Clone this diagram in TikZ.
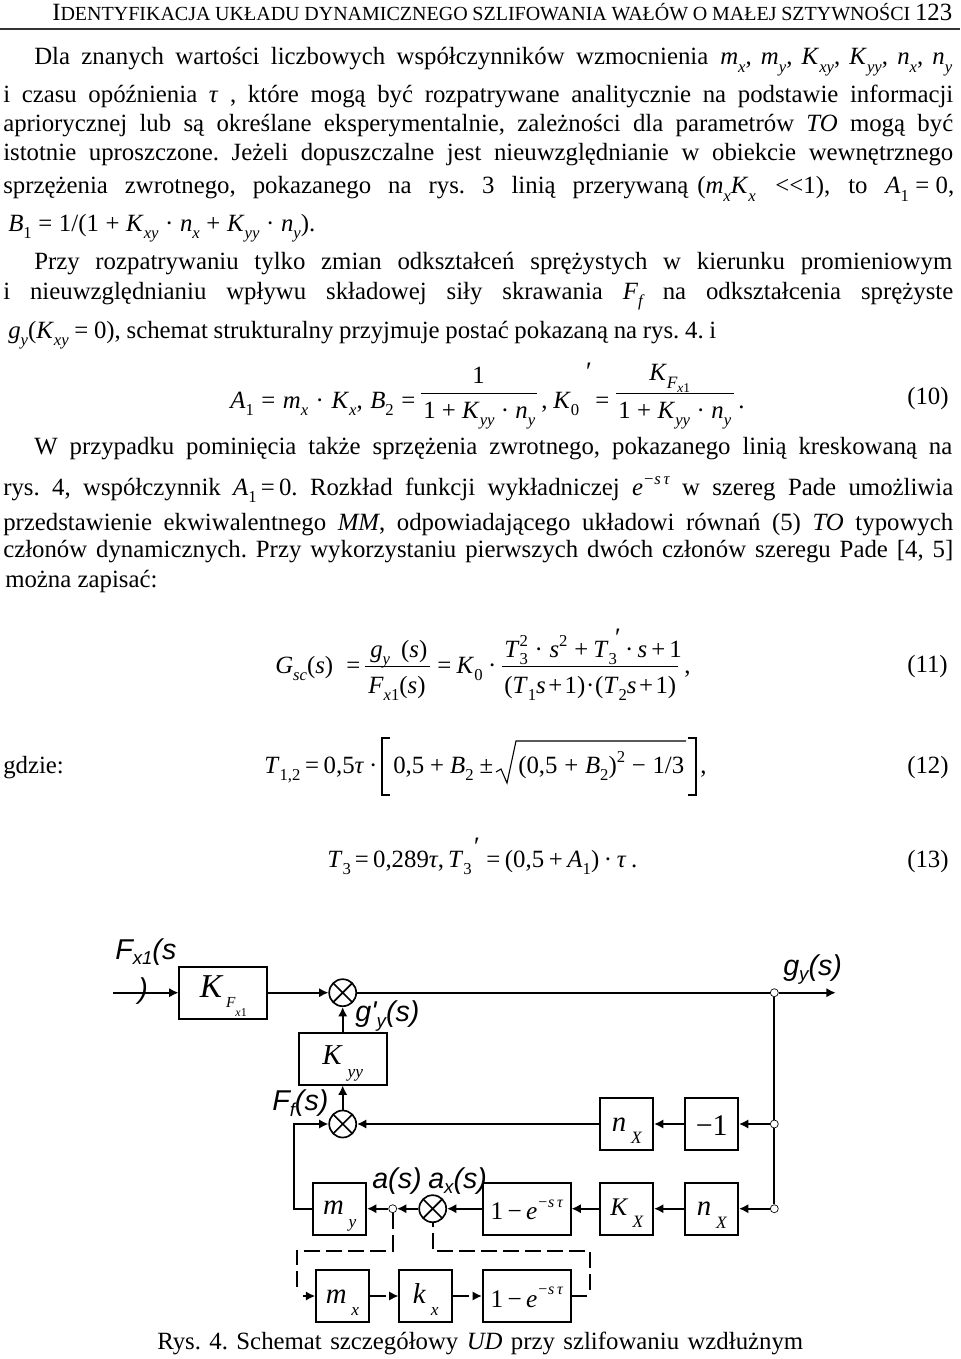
\documentclass[tikz,border=0pt]{standalone}
\usepackage{fontspec}
\setmainfont{Liberation Serif}
\newfontfamily\lab{Liberation Sans}
\usetikzlibrary{arrows.meta}
\newlength\pxu \setlength\pxu{0.75pt}
\newcounter{tl}
\newcommand\lo[1]{\raisebox{-.3em}{\fontsize{12.5}{13}\selectfont\itshape #1}}
\newcommand\lon[1]{\raisebox{-.3em}{\fontsize{12.5}{13}\selectfont #1}}
\newcommand\hi[1]{\raisebox{.42em}{\fontsize{12.5}{13}\selectfont\itshape #1}}
\newcommand\hin[1]{\raisebox{.42em}{\fontsize{12.5}{13}\selectfont #1}}
\newcommand\I[1]{\textit{#1}}
\newcommand\tx[3]{\stepcounter{tl}\node[anchor=base west,inner sep=0pt] (t\arabic{tl}) at (#1,#2) {\frenchspacing #3};}
\newcommand\jl[4]{\tx{#1}{#2}{\makebox[#3\pxu][s]{#4}}}
\newcommand\bx[2]{\raisebox{-#1\pxu}[0pt][0pt]{#2}}
\newcommand\blo[1]{\raisebox{-.45em}{\fontsize{13}{14}\selectfont\itshape #1}}
\newcommand\bhi[1]{\raisebox{.5em}{\fontsize{12}{14}\selectfont\itshape #1}}
\newcommand\fsz[1]{\fontsize{#1}{#1}\selectfont}
\newcommand\lbl[1]{{\lab\itshape\fontsize{21.5}{24}\selectfont #1}}
\newcommand\lsb[1]{\raisebox{-.2em}{\fontsize{14}{15}\selectfont #1}}
\newcommand\primemark{\fsz{20}\I{′}}
\tikzset{
  x=0.75pt,y=-0.75pt,
  every node/.style={font=\fontsize{18.6}{21}\selectfont},
  wire/.style={line width=1.25pt},
  flow/.style={wire,-{Latex[length=7pt,width=7pt]}},
  dashwire/.style={wire,dash pattern=on 12pt off 4.5pt},
  smallbox/.style={draw,line width=1.25pt,minimum width=39.75pt,minimum height=39pt,inner sep=0pt},
  widebox/.style={draw,line width=1.25pt,minimum width=66pt,minimum height=39pt,inner sep=0pt},
  sumnode/.style={draw,circle,line width=1.25pt,minimum size=20.25pt,inner sep=0pt,
    path picture={\draw[line width=1.25pt] (path picture bounding box.north west)--(path picture bounding box.south east)
      (path picture bounding box.north east)--(path picture bounding box.south west);}},
  junction/.style={draw,circle,fill=white,line width=.5pt,minimum size=6pt,inner sep=0pt},
  lbltext/.style={anchor=base west,inner sep=0pt}
}
\begin{document}
\begin{tikzpicture}
\useasboundingbox (0,0) rectangle (960,1359);
% header
\jl{52}{21}{900}{\fsz{18.6}I\fsz{15}DENTYFIKACJA UKŁADU DYNAMICZNEGO SZLIFOWANIA WAŁÓW O MAŁEJ SZTYWNOŚCI \fsz{18.6}123}
\coordinate (ruleL) at (0,29); \coordinate (ruleR) at (960,29);
\draw[line width=.9pt,black!80] (ruleL)--(ruleR);
% text
\jl{34}{65}{674}{Dla znanych wartości liczbowych współczynników wzmocnienia}
\jl{720}{65}{232}{\I{m}\lo{x}, \I{m}\lo{y}, \I{K}\lo{xy}, \I{K}\lo{yy}, \I{n}\lo{x}, \I{n}\lo{y}}
\jl{3}{103}{950}{i czasu opóźnienia \I{τ} , które mogą być rozpatrywane analitycznie na podstawie informacji}
\jl{3}{132}{950}{apriorycznej lub są określane eksperymentalnie, zależności dla parametrów \I{TO} mogą być}
\jl{3}{161}{950}{istotnie uproszczone. Jeżeli dopuszczalne jest nieuwzględnianie w obiekcie wewnętrznego}
\jl{3}{194}{685}{sprzężenia zwrotnego, pokazanego na rys. 3 linią przerywaną}
\jl{697}{194}{133}{(\I{m}\lo{x}\I{K}\lo{x} {<}{<}1),}
\tx{848}{194}{to}
\jl{885}{194}{69}{\I{A}\lon{1} = 0,}
\jl{8}{231}{307}{\I{B}\lon{1} = 1/(1 + \I{K}\lo{xy} · \I{n}\lo{x} + \I{K}\lo{yy} · \I{n}\lo{y}).}
\jl{34}{269}{918}{Przy rozpatrywaniu tylko zmian odkształceń sprężystych w kierunku promieniowym}
\jl{3}{299}{950}{i nieuwzględnianiu wpływu składowej siły skrawania \I{F}\lo{f} na odkształcenia sprężyste}
\jl{8}{338}{708}{\I{g}\lo{y}(\I{K}\lo{xy} = 0), schemat strukturalny przyjmuje postać pokazaną na rys. 4. i}
% eq 10
\jl{230}{408}{185}{\I{A}\lon{1} = \I{m}\lo{x} · \I{K}\lo{x}, \I{B}\lon{2} =}
\coordinate (f1a) at (421,393); \coordinate (f1b) at (537,393);
\draw[line width=.7pt] (f1a)--(f1b);
\tx{472}{383}{1}
\jl{423}{418}{112}{1 + \I{K}\lo{yy} · \I{n}\lo{y}}
\tx{541}{408}{,}
\tx{553}{408}{\I{K}\lon{0}}
\tx{584}{380}{\primemark}
\tx{595}{408}{=}
\coordinate (f2a) at (616,393); \coordinate (f2b) at (734,393);
\draw[line width=.7pt] (f2a)--(f2b);
\tx{649}{380}{\I{K}\raisebox{-.35em}{\fsz{13}\itshape F}\raisebox{-.5em}{\fsz{10}\itshape x\upshape 1}}
\jl{618}{418}{113}{1 + \I{K}\lo{yy} · \I{n}\lo{y}}
\tx{738}{408}{.}
\tx{907}{404}{(10)}
\jl{34}{454}{918}{W przypadku pominięcia także sprzężenia zwrotnego, pokazanego linią kreskowaną na}
\jl{3}{495}{950}{rys. 4, współczynnik \I{A}\lon{1}\,=\,0. Rozkład funkcji wykładniczej \I{e}\hi{−s\,τ} w szereg Pade umożliwia}
\jl{3}{530}{950}{przedstawienie ekwiwalentnego \I{MM}, odpowiadającego układowi równań (5) \I{TO} typowych}
\jl{3}{557}{950}{członów dynamicznych. Przy wykorzystaniu pierwszych dwóch członów szeregu Pade [4, 5]}
\tx{5}{587}{można zapisać:}
% eq 11
\jl{275}{673}{85}{\I{G}\lo{sc}(\I{s}) =}
\coordinate (f3a) at (365,666); \coordinate (f3b) at (430,666);
\draw[line width=.7pt] (f3a)--(f3b);
\jl{370}{657}{57}{\I{g}\lo{y} (\I{s})}
\jl{368}{693}{61}{\I{F}\lo{x}\lon{1}(\I{s})}
\jl{437}{673}{59}{= \I{K}\lon{0} ·}
\coordinate (f4a) at (502,666); \coordinate (f4b) at (678,666);
\draw[line width=.7pt] (f4a)--(f4b);
\jl{504}{657}{84}{\I{T}\rlap{\lon{3}}\hin{2} · \I{s}\hin{2} +}
\jl{593}{657}{84}{\I{T}\lon{3} \ · \I{s} + 1}
\tx{613}{646}{\primemark}
\tx{504}{693}{(\I{T}\lon{1}\I{s}\hspace{.1em}+\hspace{.1em}1)\hspace{.03em}·\hspace{.03em}(\I{T}\lon{2}\I{s}\hspace{.1em}+\hspace{.1em}1)}
\tx{684}{673}{,}
\tx{907}{672}{(11)}
% eq 12
\tx{3}{773}{gdzie:}
\jl{264}{773}{113}{\I{T}\lon{1,2} = 0,5\I{τ} ·}
\coordinate (bl1) at (390,738); \coordinate (bl2) at (382,738); \coordinate (bl3) at (382,795); \coordinate (bl4) at (390,795);
\draw[line width=.8pt] (bl1)--(bl2)--(bl3)--(bl4);
\jl{393}{773}{100}{0,5 + \I{B}\lon{2} ±}
\coordinate (sq1) at (496,772); \coordinate (sq2) at (501,769); \coordinate (sq3) at (507,783); \coordinate (sq4) at (516,741); \coordinate (sq5) at (686,741);
\draw[line width=.8pt] (sq1)--(sq2)--(sq3)--(sq4)--(sq5);
\jl{518}{773}{166}{(0,5 + \I{B}\lon{2})\hin{2} − 1/3}
\coordinate (br1) at (688,738); \coordinate (br2) at (696,738); \coordinate (br3) at (696,795); \coordinate (br4) at (688,795);
\draw[line width=.8pt] (br1)--(br2)--(br3)--(br4);
\tx{700}{773}{,}
\tx{907}{773}{(12)}
% eq 13
\jl{327}{867}{144}{\I{T}\lon{3} = 0,289\I{τ}, \I{T}\lon{3}}
\tx{472}{855}{\primemark}
\jl{486}{867}{151}{= (0,5 + \I{A}\lon{1}) · \I{τ} .}
\tx{907}{867}{(13)}
% diagram nodes
\node[widebox] (KF) at (223.3,992.7) {\bx{5}{\fsz{25}\I{K}\raisebox{-.3em}{\fsz{11.5}\itshape\,F}\raisebox{-.55em}{\fsz{9}\itshape x\upshape 1}}};
\node[sumnode] (s1) at (342.7,992.7) {};
\node[widebox] (Kyy) at (342.7,1058.7) {\bx{6}{\fsz{21.6}\I{K}\,\blo{yy}}};
\node[sumnode] (s2) at (342.7,1124) {};
\node[smallbox] (n1) at (626.8,1124) {\bx{7}{\fsz{21.6}\I{n}\,\blo{X}}};
\node[smallbox] (m1) at (711.7,1124) {\bx{11}{\fsz{22.5}−1}};
\node[smallbox] (my) at (339.7,1208.7) {\bx{6}{\fsz{21.6}\I{m}\,\blo{y}}};
\node[junction] (ja) at (392.7,1208.7) {};
\node[sumnode] (s3) at (432.7,1208.7) {};
\node[widebox] (e1) at (526.7,1208.7) {\bx{11}{\fsz{19}1\,−\,\I{e}\bhi{−s\,τ}}};
\node[smallbox] (Kx) at (626.8,1208.7) {\bx{7}{\fsz{19}\I{K}\,\blo{X}}};
\node[smallbox] (n2) at (711.7,1208.7) {\bx{7}{\fsz{21.6}\I{n}\,\blo{X}}};
\node[smallbox] (mx) at (342.5,1296) {\bx{7}{\fsz{21.6}\I{m}\,\blo{x}}};
\node[smallbox] (kx) at (425.8,1296) {\bx{7}{\fsz{21.6}\I{k}\,\blo{x}}};
\node[widebox] (e2) at (526.7,1296) {\bx{11}{\fsz{19}1\,−\,\I{e}\bhi{−s\,τ}}};
\coordinate (in) at (113,992.7);
\coordinate (out) at (835.7,992.7);
\node[junction] (j1) at (774.3,992.7) {};
\node[junction] (j2) at (774.3,1124) {};
\node[junction] (j3) at (774.3,1208.7) {};
\coordinate (fb) at (293.7,1124);
\coordinate (d1) at (392.7,1250.7);
\coordinate (d2) at (296.7,1250.7);
\coordinate (d3) at (296.7,1291);
\coordinate (d4) at (303,1296);
\coordinate (d5) at (586.7,1296);
\coordinate (d6) at (590,1290);
\coordinate (d7) at (590,1251);
\coordinate (d8) at (432.7,1251);
% connectors
\draw[flow] (in)--(KF.west);
\draw[flow] (KF.east)--(s1.west);
\draw[wire] (s1.east)--(j1.west);
\draw[flow] (j1.east)--(out);
\draw[wire] (j1.south)--(j2.north);
\draw[wire] (j2.south)--(j3.north);
\draw[flow] (j2.west)--(m1.east);
\draw[flow] (m1.west)--(n1.east);
\draw[flow] (n1.west)--(s2.east);
\draw[flow] (s2.north)--(Kyy.south);
\draw[flow] (Kyy.north)--(s1.south);
\draw[flow] (j3.west)--(n2.east);
\draw[flow] (n2.west)--(Kx.east);
\draw[flow] (Kx.west)--(e1.east);
\draw[flow] (e1.west)--(s3.east);
\draw[flow] (s3.west)--(ja.east);
\draw[flow] (ja.west)--(my.east);
\draw[flow] (my.west)-|(fb)--(s2.west);
\draw[dashwire] (ja.south)--(d1)--(d2)--(d3);
\draw[flow] (d4|-mx)--(mx.west);
\draw[flow,dash pattern=on 12pt off 15pt] (mx.east)--(kx.west);
\draw[flow,dash pattern=on 12pt off 15pt] (kx.east)--(e2.west);
\draw[wire] (e2.east)--(d5);
\draw[dashwire] (d6)--(d7)--(d8)--(s3.south);
% labels
\node[lbltext] (lF) at (115,959) {\lbl{F\lsb{x1}(s}};
\node[lbltext] (lF2) at (138,998) {\lbl{)}};
\node[lbltext] (lgp) at (355,1021.7) {\lbl{g'\lsb{y}(s)}};
\node[lbltext] (lFf) at (272,1110.7) {\lbl{F\lsb{f}(s)}};
\node[lbltext] (la) at (372,1188) {\lbl{a(s)}};
\node[lbltext] (lax) at (428,1188) {\lbl{a\lsb{x}(s)}};
\node[lbltext] (lg) at (783,975) {\lbl{g\lsb{y}(s)}};
% caption
\jl{157}{1349}{646}{Rys. 4. Schemat szczegółowy \I{UD} przy szlifowaniu wzdłużnym}
\end{tikzpicture}
\end{document}
